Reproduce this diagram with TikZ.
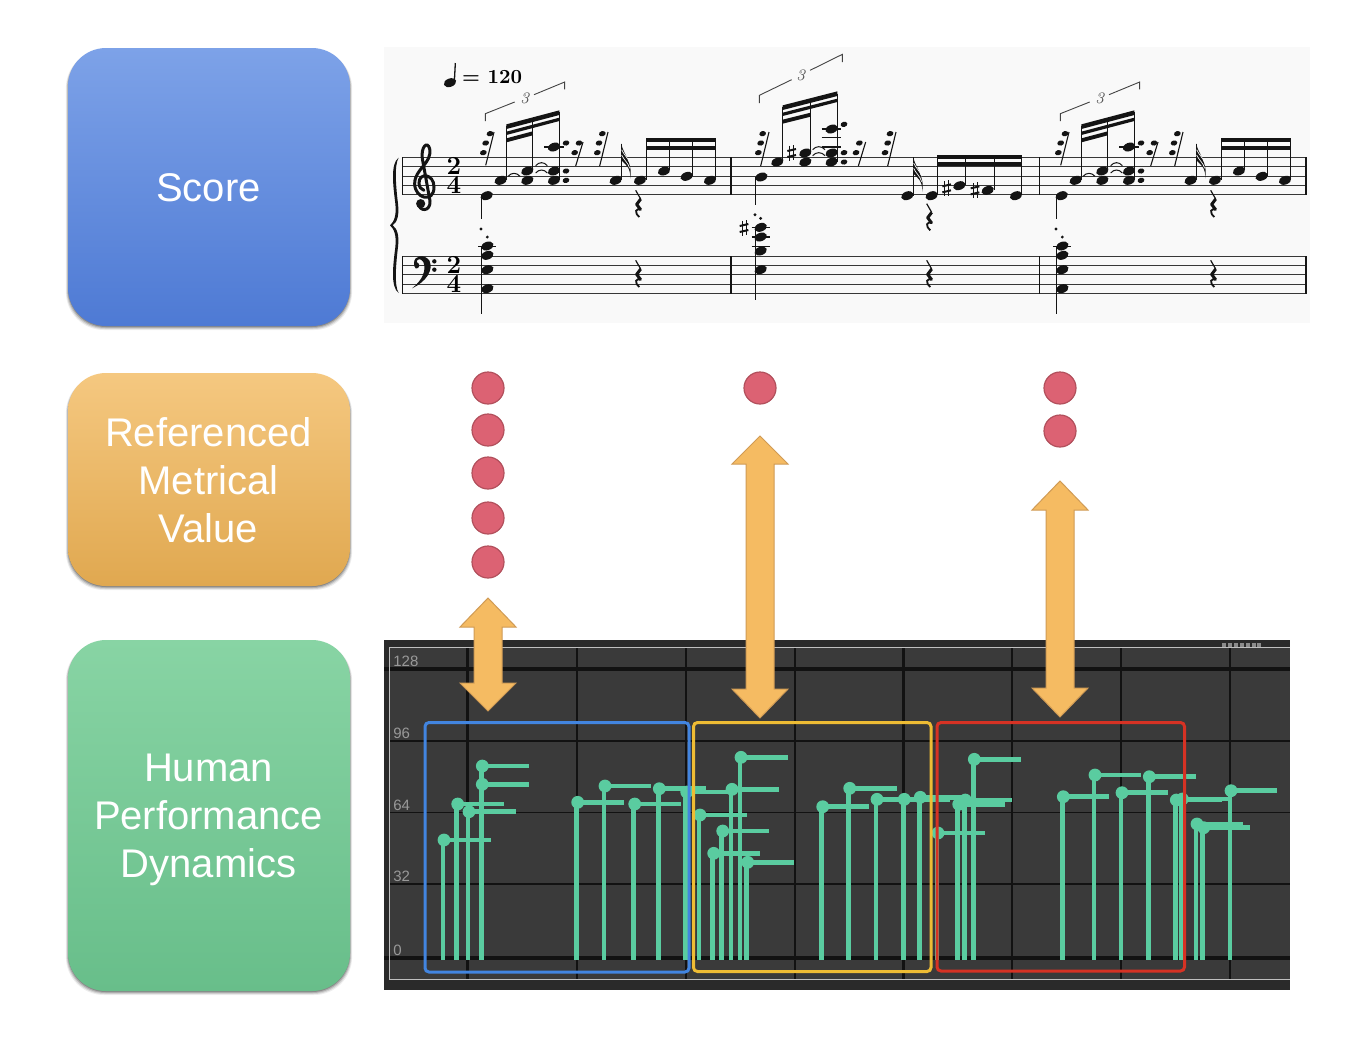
\documentclass[tikz,border=0pt]{standalone}
\usepackage{fontspec}
\newfontfamily\labelfont{Liberation Sans}
\definecolor{plotbg}{RGB}{58,58,58}
\definecolor{plotband}{RGB}{42,42,42}
\definecolor{gridk}{RGB}{18,18,18}
\definecolor{evgreen}{RGB}{90,204,160}
\definecolor{arrowfill}{RGB}{245,187,98}
\definecolor{arrowedge}{RGB}{208,155,85}
\definecolor{dotfill}{RGB}{220,98,115}
\definecolor{dotedge}{RGB}{178,80,92}
\definecolor{boxblue}{RGB}{66,133,224}
\definecolor{boxyellow}{RGB}{238,188,52}
\definecolor{boxred}{RGB}{214,50,36}
\definecolor{scorebg}{RGB}{249,249,249}
\definecolor{ink}{RGB}{20,20,20}
\tikzset{
  catlabel/.style={font=\labelfont\fontsize{20}{24}\selectfont,text=white,align=center},
  axislabel/.style={font=\labelfont\fontsize{7.5}{9}\selectfont,text=white!60!black,anchor=west,inner sep=0pt},
  dblarrow/.style={fill=arrowfill,draw=arrowedge,line width=.5pt,line join=miter},
  metdot/.style={circle,minimum size=16pt,inner sep=0pt,fill=dotfill,draw=dotedge,line width=.6pt},
  gridthin/.style={draw=gridk,line width=.8pt},
  gridthick/.style={draw=gridk,line width=2pt},
  groupbox/.style={line width=1.5pt,rounded corners=2pt},
  stemline/.style={draw=ink,line width=.5pt},
  staffline/.style={draw=ink!85,line width=.5pt},
  barline/.style={draw=ink,line width=.75pt},
  ledger/.style={draw=ink,line width=.6pt},
}
% helpers, all in zoomed coordinates of the score
\newcommand{\nh}[2]{\fill[ink] (#1,#2) ellipse[x radius=3.2pt,y radius=2.1pt,rotate=20];}
\newcommand{\dt}[2]{\fill[ink] (#1,#2) circle[radius=.8pt];}
\newcommand{\rd}[2]{\fill[ink] (#1,#2) ellipse[x radius=1.7pt,y radius=1.3pt,rotate=15];}
\newcommand{\stm}[3]{\draw[stemline] (#1,#2) -- (#1,#3);}
\newcommand{\bm}[5]{\fill[ink] (#1,#2) -- (#3,#4) -- (#3,#4+#5) -- (#1,#2+#5) -- cycle;}
\newcommand{\ldg}[3]{\draw[ledger] (#1,#3) -- (#2,#3);}
\newcommand{\tieA}[3]{\draw[ink,line width=.5pt] (#1,#3) .. controls (#1+10,#3-12) and (#2-10,#3-12) .. (#2,#3);}
\newcommand{\rstl}[4]{\draw[stemline,line width=.55pt] (#1,#2) -- (#3,#4);}
\newcommand{\shrp}[2]{%
  \draw[ink,line width=.45pt] (#1-6,#2-22) -- (#1-6,#2+24) (#1+6,#2-24) -- (#1+6,#2+22);
  \draw[ink,line width=1pt] (#1-13,#2-6) -- (#1+13,#2-12) (#1-13,#2+12) -- (#1+13,#2+6);}
\newcommand{\qrest}[2]{%
  \draw[ink,line width=.6pt] (#1-5,#2) -- (#1+10,#2+26);
  \draw[ink,line width=1.5pt,line join=round] (#1+10,#2+26) -- (#1-2,#2+42) -- (#1+10,#2+58);
  \draw[ink,line width=.9pt] (#1+12,#2+58) .. controls (#1-6,#2+52) and (#1-10,#2+66) .. (#1+6,#2+80);}
\newcommand{\fl}[2]{% stem x, top y: hatched 64th-note flag
  \fill[ink] (#1,#2) .. controls (#1+4,#2+30) and (#1+34,#2+50) .. (#1+27,#2+105)
     .. controls (#1+28,#2+70) and (#1+12,#2+62) .. (#1,#2+50) -- cycle;
  \draw[scorebg,line width=.35pt] (#1+1,#2+18) .. controls (#1+8,#2+34) and (#1+20,#2+42) .. (#1+25,#2+58);
  \draw[scorebg,line width=.35pt] (#1+1,#2+34) .. controls (#1+8,#2+50) and (#1+20,#2+56) .. (#1+25,#2+74);}
\newcommand{\timesig}[3]{\node[font=\bfseries\fontsize{13}{9.6}\selectfont,inner sep=0pt,align=center] (#1) at (210,#2) {#3};}
\newcommand{\measureOne}{%
  % tuplet bracket
  \draw[ink!80,line width=.45pt] (304,222) -- (304,200) -- (392,165);
  \draw[ink!80,line width=.45pt] (450,143) -- (542,105) -- (542,127);
  \node[font=\fontsize{8}{9}\selectfont\itshape,text=ink!75,inner sep=0pt] (t3) at (422,155) {3};
  % beams and stems
  \bm{367}{232}{526}{190}{14}
  \bm{367}{254}{526}{212}{10}
  \bm{367}{274}{446}{253}{12}
  \stm{367}{238}{398}\stm{446}{215}{368}\stm{526}{195}{400}
  \nh{350}{400}\nh{430}{372}\nh{430}{400}\nh{510}{372}\nh{510}{400}\nh{510}{300}
  \ldg{480}{540}{300}
  \rd{546}{288}\rd{546}{372}\rd{546}{400}
  \tieA{372}{408}{388}\tieA{455}{490}{356}\tieA{455}{490}{378}
  % 32nd rests
  \rstl{305}{355}{330}{255}\rd{318}{260}\rd{305}{288}\rd{298}{317}
  \rstl{575}{357}{597}{285}\rd{585}{288}\rd{572}{317}
  \rstl{647}{357}{672}{255}\rd{655}{260}\rd{645}{288}\rd{640}{317}
  % lower voice
  \nh{308}{446}\stm{291}{446}{515}
  \dt{291}{546}\dt{310}{570}
  \stm{291}{598}{802}
  \nh{310}{597}\nh{310}{625}\nh{310}{668}\nh{310}{725}
  \ldg{283}{337}{598}
  % 64th note
  \nh{695}{400}\stm{712}{290}{400}\fl{712}{290}
  % sixteenth group
  \bm{787}{274}{995}{274}{12}\bm{787}{296}{995}{296}{12}
  \stm{787}{280}{398}\stm{857}{280}{370}\stm{926}{280}{386}\stm{995}{280}{398}
  \nh{768}{400}\nh{840}{372}\nh{908}{388}\nh{978}{400}
  \qrest{760}{430}\qrest{760}{640}
}
\begin{document}
\begin{tikzpicture}[x=.5pt,y=-.5pt]
\useasboundingbox (0,0) rectangle (1364,1046);
\fill[white] (0,0) rectangle (1364,1046);
% ---- category boxes ----
\foreach \a/\b/\c/\d/\tc/\mc/\bc in {
  68/48/350/326/{125,162,232}/{102,145,230}/{78,122,212},
  68/373/350/586/{245,200,128}/{246,188,96}/{224,168,80},
  68/640/350/991/{136,212,164}/{122,204,152}/{104,190,138}}{
  \foreach \e/\o in {3/.07,2/.11,1/.16,0/.22}
    \fill[black,opacity=\o,rounded corners=19pt] (\a-\e*.7,\b+2) rectangle (\c+\e*.7,\d+1+\e);
  \definecolor{tt}{RGB}{\tc}\definecolor{mm}{RGB}{\mc}\definecolor{bb}{RGB}{\bc}
  \shade[rounded corners=19pt,top color=tt,middle color=mm,bottom color=bb] (\a,\b) rectangle (\c,\d);
}
\node[catlabel] (score) at (208.5,188) {Score};
\node[catlabel] (rmv) at (208.5,480) {Referenced\\Metrical\\Value};
\node[catlabel] (hpd) at (208.5,820) {Human\\Performance\\Dynamics};
% ---- score ----
\fill[scorebg] (384,47) rectangle (1310,323);
\foreach \y in {157,166.3,176,185.3,194.7,256,265.3,274.7,284,293.7}
  \draw[staffline] (402,\y) -- (1306,\y);
\foreach \x in {402.3,731,1039.3,1306}{
  \draw[barline] (\x,157) -- (\x,194.7);
  \draw[barline] (\x,256) -- (\x,293.7);}
\begin{scope}[shift={(384,47)},x=.16667pt,y=-.16667pt]
  % brace
  \fill[ink] (44,332) .. controls (18,350) and (28,420) .. (34,470) .. controls (38,505) and (30,525) .. (18,535)
     .. controls (30,545) and (38,565) .. (34,600) .. controls (28,650) and (18,720) .. (44,738)
     .. controls (30,715) and (36,650) .. (42,600) .. controls (46,565) and (40,545) .. (26,535)
     .. controls (40,525) and (46,505) .. (42,470) .. controls (36,420) and (30,355) .. (44,332) -- cycle;
  % treble clef
  \draw[ink,line width=1.5pt,line cap=round] (103,468) .. controls (105,495) and (140,495) .. (138,462)
     -- (115,335) .. controls (110,300) and (130,280) .. (137,305) .. controls (145,350) and (92,365) .. (92,410)
     .. controls (92,455) and (150,470) .. (150,420) .. controls (150,380) and (105,375) .. (105,408)
     .. controls (105,420) and (112,428) .. (120,430);
  \fill[ink] (110,470) circle[radius=2.3pt];
  % bass clef
  \fill[ink] (90,648) .. controls (90,625) and (120,620) .. (136,640) .. controls (150,670) and (125,705) .. (84,724)
     .. controls (115,700) and (128,670) .. (118,645) .. controls (110,632) and (98,636) .. (98,645)
     .. controls (112,650) and (105,668) .. (95,664) .. controls (92,662) and (90,655) .. (90,648) -- cycle;
  \fill[ink] (151,643) circle[radius=1.1pt] (151,668) circle[radius=1.1pt];
  % time signatures
  \timesig{tsa}{386.5}{2\\4}\timesig{tsb}{683.5}{2\\4}
  % tempo
  \nh{198}{107}\draw[stemline,line width=.65pt] (211,105) -- (214,48);
  \node[font=\bfseries\fontsize{10}{12}\selectfont,inner sep=0pt,anchor=west] (tempo) at (233,90) {= 120};
  \measureOne
\end{scope}
\begin{scope}[shift={(959,47)},x=.16667pt,y=-.16667pt]
  \measureOne
\end{scope}
\begin{scope}[shift={(720,47)},x=.16667pt,y=-.16667pt]
  \draw[ink!80,line width=.45pt] (118,168) -- (118,145) -- (215,98);
  \draw[ink!80,line width=.45pt] (270,70) -- (367,22) -- (367,45);
  \node[font=\fontsize{8}{9}\selectfont\itshape,text=ink!75,inner sep=0pt] (t3b) at (242,85) {3};
  \bm{188}{175}{352}{133}{14}
  \bm{188}{197}{352}{155}{10}
  \bm{188}{218}{272}{197}{12}
  \stm{188}{180}{345}\stm{272}{160}{320}\stm{352}{140}{345}
  \nh{172}{345}\nh{256}{318}\nh{256}{345}\nh{335}{318}\nh{335}{345}\nh{335}{246}
  \ldg{305}{362}{246}\ldg{305}{362}{272}\ldg{305}{362}{300}
  \shrp{215}{318}
  \tieA{278}{315}{308}\tieA{278}{315}{326}
  \rd{372}{232}\rd{372}{317}\rd{372}{345}
  \rstl{122}{357}{147}{255}\rd{128}{260}\rd{122}{288}\rd{115}{317}
  \rstl{415}{357}{437}{285}\rd{418}{288}\rd{408}{317}
  \rstl{503}{357}{528}{255}\rd{510}{260}\rd{503}{288}\rd{495}{317}
  \nh{124}{390}\stm{105}{390}{475}
  \dt{105}{503}\dt{122}{514}
  \stm{105}{540}{760}
  \nh{122}{541}\nh{122}{570}\nh{122}{612}\nh{122}{668}
  \ldg{95}{150}{541}\ldg{95}{150}{570}\ldg{95}{150}{598}
  \shrp{72}{543}
  \nh{562}{446}\stm{580}{330}{446}\fl{580}{330}
  \bm{652}{324}{906}{324}{12}\bm{652}{345}{906}{345}{13}
  \stm{652}{330}{444}\stm{737}{330}{414}\stm{822}{330}{428}\stm{905}{330}{444}
  \nh{635}{446}\nh{718}{416}\nh{803}{430}\nh{888}{446}
  \shrp{680}{424}\shrp{765}{430}
  \qrest{625}{470}\qrest{625}{640}
\end{scope}
% ---- metrical value dots ----
\foreach \n/\x/\y in {a/488/388,b/488/430,c/488/473,d/488/518,e/488/562,f/760/388,g/1060/388,h/1060/431}
  \node[metdot] (dot\n) at (\x,\y) {};
% ---- performance plot ----
\fill[plotbg] (384,640) rectangle (1290,990);
\fill[plotband] (384,640) rectangle (1290,647);
\fill[plotband] (384,980) rectangle (1290,990);
\fill[plotband] (384,640) rectangle (389,990);
\foreach \x in {577,686,795,1012,1121,1230}
  \draw[gridthin] (\x,647) -- (\x,980);
\foreach \x in {467.5,903}
  \draw[gridthick,line width=1.5pt] (\x,647) -- (\x,980);
\foreach \y in {741,812.5,884}
  \draw[gridthin] (389,\y) -- (1290,\y);
\foreach \y in {669,957.5}
  \draw[gridthick] (384,\y) -- (1290,\y);
\draw[white!75!black,line width=.5pt] (1290,647) -- (389,647) -- (389,979) -- (1290,979);
\foreach \x in {1222,1228,1234,1240,1246,1252,1257}
  \fill[white!55!black] (\x,643) rectangle (\x+3.5,647);
\foreach \n/\t/\y in {a/128/661,b/96/733,c/64/805,d/32/876,e/0/950}
  \node[axislabel] (ax\n) at (393,\y) {\t};
% events
\foreach \x/\y/\h in {
  443/840/490.7, 456.7/804/504, 468/811.7/515.7, 481.3/784.3/529, 481.3/766/529,
  576.7/802.3/624, 604/786/651.3, 633.7/804/680.7, 658.3/788.7/706, 685.7/792/733,
  699/815/746.7, 712.7/853.3/760, 721.7/831/769.3, 731/789.3/778.7, 740/757.3/787.7, 746.7/862.3/794.3,
  821.7/806.7/869.3, 848.7/788.3/896.7, 876/799.3/923, 903.3/799.3/950, 919.3/797.3/967,
  937/833/984.7, 957.7/804.3/1005, 964.3/800/1012, 973.3/759.3/1021,
  1062.3/796.7/1109.3, 1094/775/1141, 1121/792.7/1168.3, 1148.3/776.7/1195.7,
  1175.3/800/1222, 1181.3/799/1229, 1196/824/1243.3, 1202.7/827.7/1250, 1230/790.7/1277.3}{
  \draw[evgreen,line width=2.3pt] (\x,959.5) -- (\x,\y);
  \draw[evgreen,line width=2.3pt] (\x,\y) -- (\h,\y);
  \fill[evgreen] (\x+1,\y) circle[radius=3.2pt];
}
% group frames
\draw[boxblue,groupbox] (425,722.5) rectangle (689,972);
\draw[boxyellow,groupbox] (693.5,722.5) rectangle (931,971.5);
\draw[boxred,groupbox] (937,722.5) rectangle (1184.5,971);
% ---- double arrows ----
\foreach \x/\t/\a/\b/\e in {488/598/627/683/711, 760/436/464/689/718, 1060/481/510/688/717}
  \draw[dblarrow] (\x,\t) -- (\x+28,\a) -- (\x+14,\a) -- (\x+14,\b) -- (\x+28,\b) -- (\x,\e)
     -- (\x-28,\b) -- (\x-14,\b) -- (\x-14,\a) -- (\x-28,\a) -- cycle;
\end{tikzpicture}
\end{document}
